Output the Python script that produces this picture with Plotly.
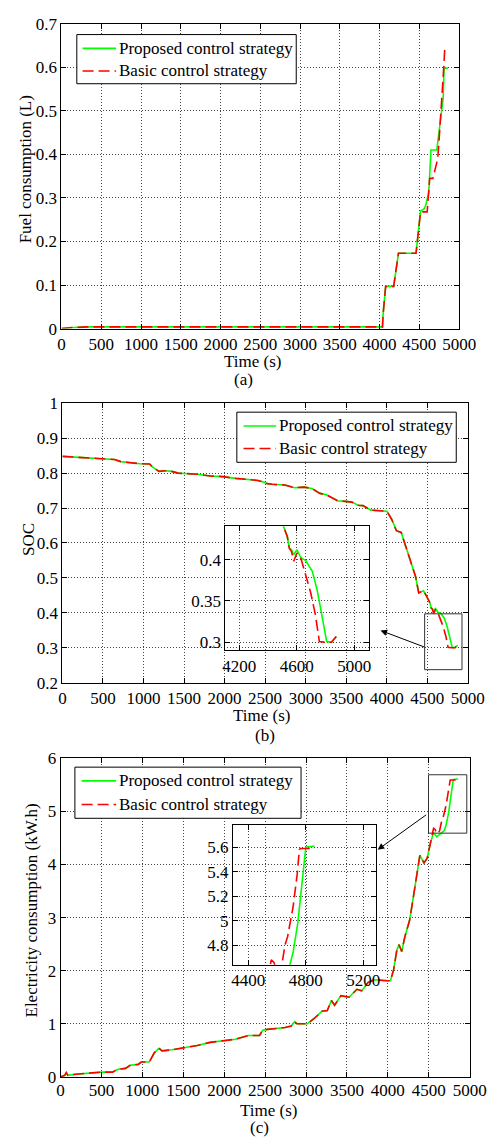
import plotly.graph_objects as go

# ---------------- (a) Fuel consumption ----------------
fuel_t_prop = [0, 100, 330, 1000, 2000, 3000, 4036, 4045, 4060, 4076, 4177, 4200, 4215, 4237,
               4458, 4475, 4490, 4505, 4515, 4558, 4578, 4618, 4646, 4719, 4745, 4779, 4800, 4811, 4859]
fuel_v_prop = [0, 0.002, 0.004, 0.004, 0.004, 0.004, 0.004, 0.035, 0.07, 0.097, 0.097, 0.13, 0.14, 0.173,
               0.173, 0.2, 0.22, 0.24, 0.27, 0.275, 0.282, 0.312, 0.41, 0.41, 0.45, 0.50, 0.53, 0.598, 0.598]
fuel_t_basic = [0, 100, 330, 1000, 2000, 3000, 4036, 4045, 4060, 4076, 4177, 4200, 4215, 4237,
                4458, 4475, 4490, 4505, 4515, 4598, 4610, 4630, 4670, 4700, 4731, 4747, 4771, 4787, 4807, 4819, 4851]
fuel_v_basic = [0, 0.002, 0.004, 0.004, 0.004, 0.004, 0.004, 0.035, 0.07, 0.097, 0.097, 0.13, 0.14, 0.173,
                0.173, 0.2, 0.22, 0.24, 0.268, 0.268, 0.30, 0.345, 0.345, 0.37, 0.39, 0.43, 0.49, 0.535, 0.60, 0.641, 0.641]

# ---------------- (b) SOC ----------------
soc_t_prop = [0, 90, 170, 290, 326, 524, 642, 721, 839, 957, 1075, 1113, 1192, 1266, 1348, 1427, 1506,
              1664, 1821, 1978, 2135, 2293, 2411, 2469, 2528, 2587, 2744, 2862, 2980, 3078, 3176, 3255,
              3334, 3393, 3491, 3570, 3648, 3707, 3805, 4002, 4061, 4120, 4179, 4238, 4297, 4356, 4395,
              4454, 4493, 4534, 4548,
              4563, 4579, 4601, 4630, 4663, 4708, 4741, 4770, 4808, 4841, 4875]
soc_v_prop = [0.848, 0.847, 0.845, 0.843, 0.844, 0.841, 0.839, 0.833, 0.829, 0.827, 0.826, 0.817, 0.805,
              0.807, 0.805, 0.800, 0.799, 0.797, 0.792, 0.790, 0.785, 0.781, 0.779, 0.775, 0.770, 0.768,
              0.766, 0.758, 0.760, 0.756, 0.742, 0.738, 0.728, 0.721, 0.719, 0.717, 0.708, 0.707, 0.694,
              0.691, 0.668, 0.635, 0.630, 0.588, 0.551, 0.504, 0.457, 0.463, 0.447, 0.428, 0.414,
              0.412, 0.406, 0.412, 0.402, 0.399, 0.386, 0.364, 0.337, 0.301, 0.300, 0.307]
soc_t_basic = [0, 90, 170, 290, 326, 524, 642, 721, 839, 957, 1075, 1113, 1192, 1266, 1348, 1427, 1506,
               1664, 1821, 1978, 2135, 2293, 2411, 2469, 2528, 2587, 2744, 2862, 2980, 3078, 3176, 3255,
               3334, 3393, 3491, 3570, 3648, 3707, 3805, 4002, 4061, 4120, 4179, 4238, 4297, 4356, 4395,
               4454, 4493, 4534, 4548,
               4563, 4579, 4601, 4630, 4645, 4697, 4730, 4757, 4800, 4841, 4875]
soc_v_basic = [0.848, 0.847, 0.845, 0.843, 0.844, 0.841, 0.839, 0.833, 0.829, 0.827, 0.826, 0.817, 0.805,
               0.807, 0.805, 0.800, 0.799, 0.797, 0.792, 0.790, 0.785, 0.781, 0.779, 0.775, 0.770, 0.768,
               0.766, 0.758, 0.760, 0.756, 0.742, 0.738, 0.728, 0.721, 0.719, 0.717, 0.708, 0.707, 0.694,
               0.691, 0.668, 0.635, 0.630, 0.588, 0.551, 0.504, 0.457, 0.463, 0.447, 0.428, 0.414,
               0.410, 0.398, 0.408, 0.401, 0.392, 0.360, 0.333, 0.301, 0.300, 0.300, 0.307]

# ---------------- (c) Electricity consumption ----------------
ele_t_prop = [0, 51, 70, 90, 187, 343, 500, 636, 694, 793, 851, 948, 987, 1085, 1144, 1202, 1241, 1358,
              1514, 1671, 1827, 1983, 2139, 2295, 2432, 2471, 2529, 2744, 2820, 2861, 2890, 3017, 3100,
              3193, 3260, 3310, 3349, 3427, 3525, 3622, 3681, 3759, 3837, 3993, 4032, 4071, 4110, 4137,
              4169, 4208, 4266, 4305, 4344, 4391, 4442, 4481, 4520,
              4559, 4598, 4657, 4689, 4711, 4744, 4767, 4785, 4800, 4860]
ele_v_prop = [0, 0.03, 0.08, 0.03, 0.05, 0.07, 0.09, 0.09, 0.14, 0.16, 0.22, 0.235, 0.28, 0.28, 0.45,
              0.54, 0.49, 0.51, 0.555, 0.59, 0.65, 0.685, 0.71, 0.78, 0.78, 0.88, 0.895, 0.93, 0.96, 1.04,
              1.0, 1.0, 1.1, 1.235, 1.25, 1.44, 1.35, 1.53, 1.5, 1.65, 1.62, 1.78, 1.83, 1.81, 1.81, 2.02,
              2.39, 2.49, 2.36, 2.64, 2.95, 3.32, 3.75, 4.17, 4.03, 4.12, 4.40,
              4.60, 4.52, 4.59, 4.64, 4.74, 4.98, 5.25, 5.48, 5.60, 5.61]
ele_t_basic = [0, 51, 70, 90, 187, 343, 500, 636, 694, 793, 851, 948, 987, 1085, 1144, 1202, 1241, 1358,
               1514, 1671, 1827, 1983, 2139, 2295, 2432, 2471, 2529, 2744, 2820, 2861, 2890, 3017, 3100,
               3193, 3260, 3310, 3349, 3427, 3525, 3622, 3681, 3759, 3837, 3993, 4032, 4071, 4110, 4137,
               4169, 4208, 4266, 4305, 4344, 4391, 4442, 4481, 4520,
               4559, 4578, 4598, 4620, 4633, 4655, 4673, 4711, 4740, 4755, 4762, 4850]
ele_v_basic = [0, 0.03, 0.08, 0.03, 0.05, 0.07, 0.09, 0.09, 0.14, 0.16, 0.22, 0.235, 0.28, 0.28, 0.45,
               0.54, 0.49, 0.51, 0.555, 0.59, 0.65, 0.685, 0.71, 0.78, 0.78, 0.88, 0.895, 0.93, 0.96, 1.04,
               1.0, 1.0, 1.1, 1.235, 1.25, 1.44, 1.35, 1.53, 1.5, 1.65, 1.62, 1.78, 1.83, 1.81, 1.81, 2.02,
               2.39, 2.49, 2.36, 2.64, 2.95, 3.32, 3.75, 4.17, 4.03, 4.12, 4.40,
               4.68, 4.66, 4.58, 4.60, 4.64, 4.80, 4.87, 5.11, 5.38, 5.58, 5.59, 5.59]

x_ticks = [0, 500, 1000, 1500, 2000, 2500, 3000, 3500, 4000, 4500, 5000]
fuel_yticks = [0, 0.1, 0.2, 0.3, 0.4, 0.5, 0.6, 0.7]
soc_yticks = [0.2, 0.3, 0.4, 0.5, 0.6, 0.7, 0.8, 0.9, 1]
soc_ylabels = ["0.2", "0.3", "0.4", "0.5", "0.6", "0.7", "0.8", "0.9", "1"]
ele_yticks = [0, 1, 2, 3, 4, 5, 6]
soc_inset_xticks = [4200, 4600, 5000]
soc_inset_yticks = [0.3, 0.35, 0.4]
soc_inset_ylabels = ["0.3", "0.35", "0.4"]
ele_inset_xticks = [4400, 4800, 5200]
ele_inset_yticks = [4.8, 5, 5.2, 5.4, 5.6]
ele_inset_ylabels = ["4.8", "5", "5.2", "5.4", "5.6"]

names = ["Proposed control strategy", "Basic control strategy"]
GREEN = "#00ff00"
RED = "#ff0000"
DASH = "11px,5px"
FONT = "Liberation Serif"
W, H = 502, 1140


def px(x):
    return x / W


def py(y):
    return 1 - y / H


fig = go.Figure()


def add_pair(tp, vp, tb, vb, xa, ya):
    fig.add_trace(go.Scatter(x=tp, y=vp, mode="lines", name=names[0], xaxis=xa, yaxis=ya,
                             line=dict(color=GREEN, width=1.6), showlegend=False))
    fig.add_trace(go.Scatter(x=tb, y=vb, mode="lines", name=names[1], xaxis=xa, yaxis=ya,
                             line=dict(color=RED, width=1.6, dash=DASH), showlegend=False))


add_pair(fuel_t_prop, fuel_v_prop, fuel_t_basic, fuel_v_basic, "x", "y")
add_pair(soc_t_prop, soc_v_prop, soc_t_basic, soc_v_basic, "x2", "y2")
add_pair(ele_t_prop, ele_v_prop, ele_t_basic, ele_v_basic, "x3", "y3")
add_pair(soc_t_prop, soc_v_prop, soc_t_basic, soc_v_basic, "x4", "y4")
add_pair(ele_t_prop, ele_v_prop, ele_t_basic, ele_v_basic, "x5", "y5")


def axis(domain, rng, tickvals, anchor, ticktext=None, standoff=0):
    d = dict(domain=domain, range=rng, tickvals=tickvals, anchor=anchor,
             showline=True, linecolor="black", linewidth=1, mirror="ticks",
             ticks="inside", ticklen=5, tickcolor="black",
             showgrid=True, gridcolor="#444", griddash="1px,2px", gridwidth=1,
             zeroline=False, tickfont=dict(family=FONT, size=17, color="black"),
             ticklabelstandoff=standoff)
    if ticktext is not None:
        d["ticktext"] = ticktext
    return d


fig.update_layout(
    width=W, height=H, autosize=False,
    margin=dict(l=0, r=0, t=0, b=0),
    paper_bgcolor="white", plot_bgcolor="rgba(0,0,0,0)",
    showlegend=False,
    xaxis=axis([px(60), px(475)], [0, 5000], x_ticks, "y"),
    yaxis=axis([py(325), py(15)], [0, 0.7], fuel_yticks, "x"),
    xaxis2=axis([px(61), px(484)], [0, 5000], x_ticks, "y2"),
    yaxis2=axis([py(685), py(401)], [0.2, 1], soc_yticks, "x2", soc_ylabels),
    xaxis3=axis([px(59), px(486)], [0, 5000], x_ticks, "y3", standoff=-2),
    yaxis3=axis([py(1086), py(762)], [0, 6], ele_yticks, "x3"),
    xaxis4=axis([px(231), px(381)], [4103, 5103], soc_inset_xticks, "y4"),
    yaxis4=axis([py(652), py(526)], [0.2905, 0.4405], soc_inset_yticks, "x4", soc_inset_ylabels),
    xaxis5=axis([px(239), px(388)], [4293, 5287], ele_inset_xticks, "y5"),
    yaxis5=axis([py(972), py(830)], [4.64, 5.78], ele_inset_yticks, "x5", ele_inset_ylabels),
)

# zoom rectangles
fig.add_shape(type="rect", xref="x2", yref="y2", x0=4468, x1=4929, y0=0.237, y1=0.397,
              line=dict(color="#333", width=1))
fig.add_shape(type="rect", xref="x3", yref="y3", x0=4497, x1=4965, y0=4.59, y1=5.69,
              line=dict(color="#333", width=1))

# arrows
fig.add_annotation(x=px(393), y=py(632), xref="paper", yref="paper", ax=45, ay=17,
                   showarrow=True, arrowhead=2, arrowsize=1.3, arrowwidth=1, arrowcolor="black", text="")
fig.add_annotation(x=px(390), y=py(855), xref="paper", yref="paper", ax=50, ay=-36,
                   showarrow=True, arrowhead=2, arrowsize=1.3, arrowwidth=1, arrowcolor="black", text="")

tfont = dict(family=FONT, size=17, color="black")


def text(x, y, s, angle=0, xanchor="center"):
    fig.add_annotation(x=px(x), y=py(y), xref="paper", yref="paper", text=s, showarrow=False,
                       font=tfont, textangle=angle, xanchor=xanchor, yanchor="middle", borderpad=0)


# legends (drawn as boxes, line samples and texts)
def legend_box(x0, y0, x1, y1, lx0, lx1, ly1, ly2, tx):
    fig.add_shape(type="rect", xref="paper", yref="paper", x0=px(x0), x1=px(x1), y0=py(y1), y1=py(y0),
                  line=dict(color="black", width=1), fillcolor="white", layer="above")
    fig.add_shape(type="line", xref="paper", yref="paper", x0=px(lx0), x1=px(lx1), y0=py(ly1), y1=py(ly1),
                  line=dict(color=GREEN, width=1.6), layer="above")
    fig.add_shape(type="line", xref="paper", yref="paper", x0=px(lx0), x1=px(lx1), y0=py(ly2), y1=py(ly2),
                  line=dict(color=RED, width=1.6, dash=DASH), layer="above")
    text(tx, ly1, names[0], xanchor="left")
    text(tx, ly2, names[1], xanchor="left")


legend_box(76, 26, 305, 76, 82, 117, 40, 63, 119)
legend_box(243, 410, 472, 461, 250, 284, 424, 447, 286)
legend_box(74, 771, 310, 823, 81, 117, 785, 809, 119)

text(259, 358, "Time (s)")
text(250, 377, "(a)")
text(269, 718, "Time (s)")
text(272, 739, "(b)")
text(276, 1120, "Time (s)")
text(267, 1137, "(c)")
text(22, 163, "Fuel consumption (L)", -90)
text(25, 539, "SOC", -90)
text(29, 917, "Electricity consumption (kW.h)", -90)

fig.write_html("out.html")
